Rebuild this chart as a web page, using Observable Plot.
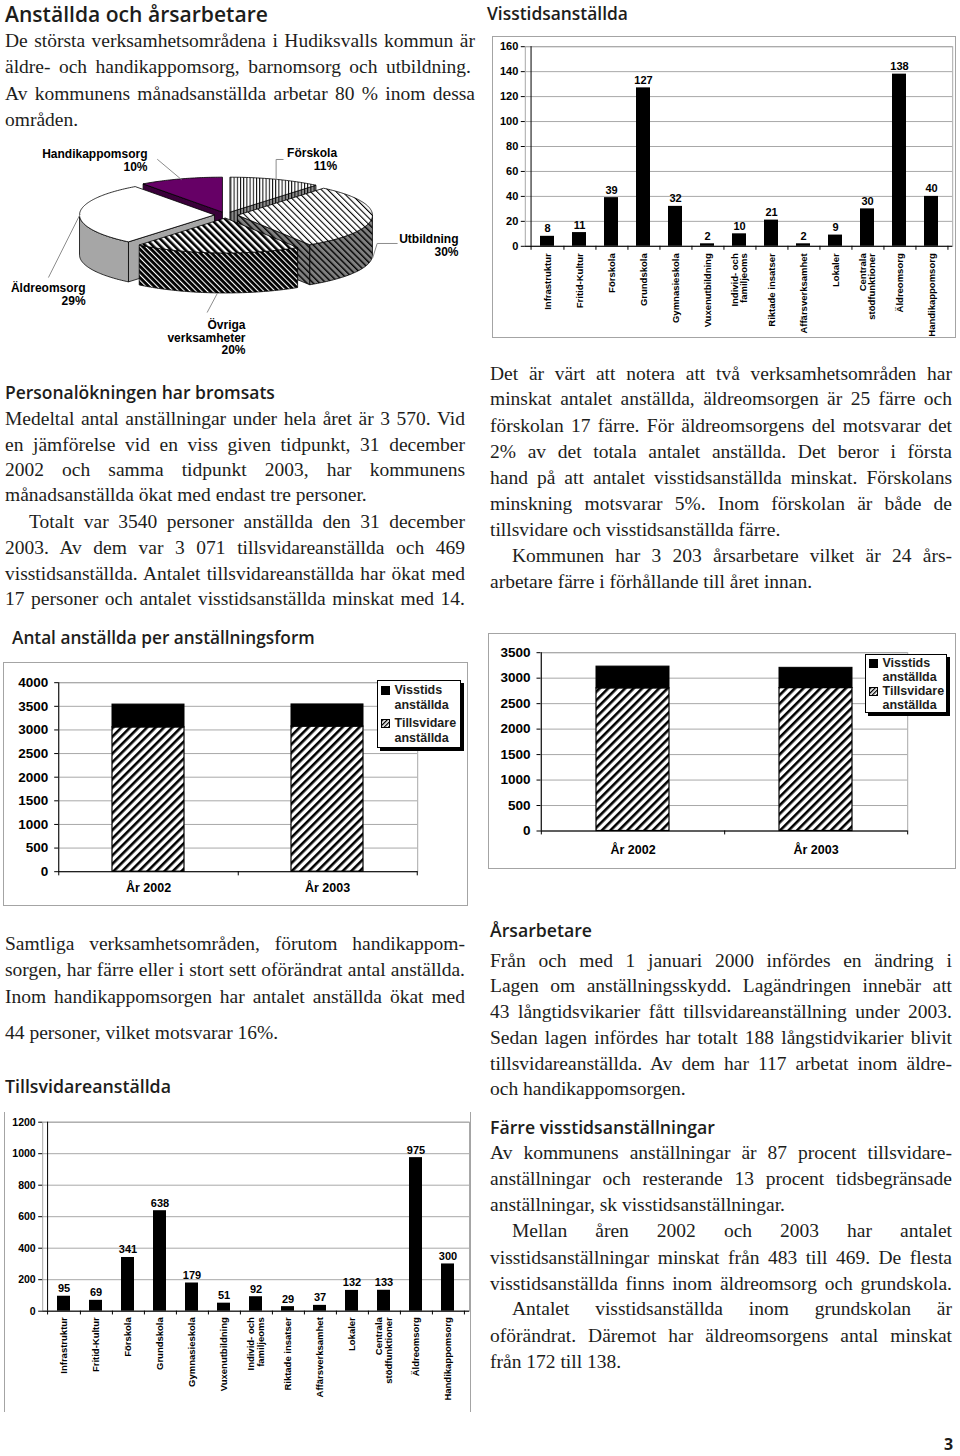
<!DOCTYPE html>
<html><head><meta charset="utf-8">
<script src="https://cdn.jsdelivr.net/npm/d3@7"></script>
<script src="https://cdn.jsdelivr.net/npm/@observablehq/plot@0.6"></script>
<style>
body{margin:0;background:#fff;}
#page{position:relative;width:960px;height:1456px;overflow:hidden;color:#1d1d1b;}
.h{position:absolute;font-family:"Open Sans",sans-serif;font-weight:600;white-space:nowrap;line-height:24px;color:#1d1d1b;}
.ln{position:absolute;font-family:"Liberation Serif",serif;font-size:19.5px;line-height:26px;text-align:justify;text-align-last:justify;color:#1d1d1b;}
.ln.last{text-align-last:left;}
.box{position:absolute;box-sizing:border-box;border:1.5px solid #a4a4a4;background:#fff;}
.chart{position:absolute;}
.leg{position:absolute;box-sizing:border-box;border:1px solid #000;background:#fff;box-shadow:3px 3px 0 #000;font-family:"Liberation Sans",Arial,sans-serif;font-weight:bold;font-size:12.5px;line-height:14.5px;}
.leg .sw{position:absolute;width:9px;height:9px;box-sizing:border-box;border:1px solid #000;}
.leg .tx{position:absolute;white-space:nowrap;}
</style></head><body>
<svg width="0" height="0" style="position:absolute;left:0;top:0">
<defs>
<pattern id="hatchBar" patternUnits="userSpaceOnUse" width="6" height="6" patternTransform="rotate(45)"><rect width="6" height="6" fill="#fff"/><rect width="2.6" height="6" fill="#000"/></pattern>
<pattern id="hatchSmall" patternUnits="userSpaceOnUse" width="3" height="3" patternTransform="rotate(45)"><rect width="3" height="3" fill="#fff"/><rect width="1.3" height="3" fill="#000"/></pattern>
<pattern id="pVert" patternUnits="userSpaceOnUse" width="3.2" height="4"><rect width="3.2" height="4" fill="#fff"/><rect width="1" height="4" fill="#000"/></pattern>
<pattern id="pVertSide" patternUnits="userSpaceOnUse" width="3.2" height="4"><rect width="3.2" height="4" fill="#8a8a8a"/><rect width="1" height="4" fill="#000"/></pattern>
<pattern id="pDiag" patternUnits="userSpaceOnUse" width="4.5" height="4.5" patternTransform="rotate(-45)"><rect width="4.5" height="4.5" fill="#fff"/><rect width="1.1" height="4.5" fill="#000"/></pattern>
<pattern id="pDiagSide" patternUnits="userSpaceOnUse" width="4.5" height="4.5" patternTransform="rotate(-45)"><rect width="4.5" height="4.5" fill="#808080"/><rect width="1.4" height="4.5" fill="#000"/></pattern>
<pattern id="pThick" patternUnits="userSpaceOnUse" width="5" height="5" patternTransform="rotate(-45)"><rect width="5" height="5" fill="#fff"/><rect width="2.6" height="5" fill="#000"/></pattern>
<pattern id="pThickSide" patternUnits="userSpaceOnUse" width="4" height="4" patternTransform="rotate(-45)"><rect width="4" height="4" fill="#000"/><rect width="1.1" height="4" fill="#fff"/></pattern>
</defs></svg>
<div id="page"></div>
<script>
// ---------------- DATA ----------------
const categories = ["Infrastruktur","Fritid-Kultur","Förskola","Grundskola","Gymnasieskola","Vuxenutbildning","Individ- och familjeoms","Riktade insatser","Affärsverksamhet","Lokaler","Centrala stödfunktioner","Äldreomsorg","Handikappomsorg"];
const categoryTickLabels = ["Infrastruktur","Fritid-Kultur","Förskola","Grundskola","Gymnasieskola","Vuxenutbildning","Individ- och\nfamiljeoms","Riktade insatser","Affärsverksamhet","Lokaler","Centrala\nstödfunktioner","Äldreomsorg","Handikappomsorg"];
const visstidsValues = [8, 11, 39, 127, 32, 2, 10, 21, 2, 9, 30, 138, 40];
const tillsvidareValues = [95, 69, 341, 638, 179, 51, 92, 29, 37, 132, 133, 975, 300];

const years = ["År 2002", "År 2003"];
const anstalldaTillsvidare = [3054, 3071];
const anstalldaVisstids = [483, 469];
const arsarbTillsvidare = [2800, 2805];
const arsarbVisstids = [427, 398];

const pieNames = ["Förskola", "Utbildning", "Övriga verksamheter", "Äldreomsorg", "Handikappomsorg"];
const pieLabels = ["Förskola", "Utbildning", "Övriga\nverksamheter", "Äldreomsorg", "Handikappomsorg"];
const pieShares = [11, 30, 20, 29, 10];

const ticksVisstid = [0, 20, 40, 60, 80, 100, 120, 140, 160];
const ticksTillsv = [0, 200, 400, 600, 800, 1000, 1200];
const ticksAnst = [0, 500, 1000, 1500, 2000, 2500, 3000, 3500, 4000];
const ticksArs = [0, 500, 1000, 1500, 2000, 2500, 3000, 3500];

// ---------------- TEXT ----------------
const page = document.getElementById("page");
const headings = [
  {t: "Anställda och årsarbetare", x: 5, yc: 15, w: 263},
  {t: "Visstidsanställda", x: 487, yc: 14, w: 141},
  {t: "Personalökningen har bromsats", x: 5, yc: 393.5, w: 270},
  {t: "Antal anställda per anställningsform", x: 12, yc: 639, w: 303},
  {t: "Tillsvidareanställda", x: 5, yc: 1087, w: 166},
  {t: "Årsarbetare", x: 490, yc: 931.5, w: 102},
  {t: "Färre visstidsanställningar", x: 490, yc: 1128.5, w: 225}
];
const L = (t, x, w, yc, o = {}) => Object.assign({t, x, w, yc}, o);
const lines = [
  L("De största verksamhetsområdena i Hudiksvalls kommun är", 5, 470, 43),
  L("äldre- och handikappomsorg, barnomsorg och utbildning.", 5, 466, 69.5),
  L("Av kommunens månadsanställda arbetar 80 % inom dessa", 5, 470, 96),
  L("områden.", 5, 470, 122, {last: true}),

  L("Medeltal antal anställningar under hela året är 3 570. Vid", 5, 460, 421.7),
  L("en jämförelse vid en viss given tidpunkt, 31 december", 5, 460, 447.3),
  L("2002 och samma tidpunkt 2003, har kommunens", 5, 460, 472.7),
  L("månadsanställda ökat med endast tre personer.", 5, 460, 497.7, {last: true}),
  L("Totalt var 3540 personer anställda den 31 december", 5, 460, 524.3, {ind: 24}),
  L("2003. Av dem var 3 071 tillsvidareanställda och 469", 5, 460, 550),
  L("visstidsanställda. Antalet tillsvidareanställda har ökat med", 5, 460, 576),
  L("17 personer och antalet visstidsanställda minskat med 14.", 5, 460, 601.7),

  L("Samtliga verksamhetsområden, förutom handikappom-", 5, 460, 946.7),
  L("sorgen, har färre eller i stort sett oförändrat antal anställda.", 5, 460, 972.7),
  L("Inom handikappomsorgen har antalet anställda ökat med", 5, 460, 999.3),
  L("44 personer, vilket motsvarar 16%.", 5, 460, 1035, {last: true}),

  L("Det är värt att notera att två verksamhetsområden har", 490, 462, 376.7),
  L("minskat antalet anställda, äldreomsorgen är 25 färre och", 490, 462, 401.7),
  L("förskolan 17 färre. För äldreomsorgens del motsvarar det", 490, 462, 428.3),
  L("2% av det totala antalet anställda. Det beror i första", 490, 462, 454.3),
  L("hand på att antalet visstidsanställda minskat. Förskolans", 490, 462, 480.7),
  L("minskning motsvarar 5%. Inom förskolan är både de", 490, 462, 506.7),
  L("tillsvidare och visstidsanställda färre.", 490, 462, 532.7, {last: true}),
  L("Kommunen har 3 203 årsarbetare vilket är 24 års-", 490, 462, 558.3, {ind: 22}),
  L("arbetare färre i förhållande till året innan.", 490, 462, 584, {last: true}),

  L("Från och med 1 januari 2000 infördes en ändring i", 490, 462, 963.3),
  L("Lagen om anställningsskydd. Lagändringen innebär att", 490, 462, 988.3),
  L("43 långtidsvikarier fått tillsvidareanställning under 2003.", 490, 462, 1014),
  L("Sedan lagen infördes har totalt 188 långstidvikarier blivit", 490, 462, 1040),
  L("tillsvidareanställda. Av dem har 117 arbetat inom äldre-", 490, 462, 1066),
  L("och handikappomsorgen.", 490, 462, 1091.7, {last: true}),

  L("Av kommunens anställningar är 87 procent tillsvidare-", 490, 462, 1155),
  L("anställningar och resterande 13 procent tidsbegränsade", 490, 462, 1181.7),
  L("anställningar, sk visstidsanställningar.", 490, 462, 1207.3, {last: true}),
  L("Mellan åren 2002 och 2003 har antalet", 490, 462, 1233.3, {ind: 22}),
  L("visstidsanställningar minskat från 483 till 469. De flesta", 490, 462, 1260),
  L("visstidsanställda finns inom äldreomsorg och grundskola.", 490, 462, 1286),
  L("Antalet visstidsanställda inom grundskolan är", 490, 462, 1311.7, {ind: 22}),
  L("oförändrat. Däremot har äldreomsorgens antal minskat", 490, 462, 1338.3),
  L("från 172 till 138.", 490, 462, 1364, {last: true})
];

for (const h of headings) {
  const d = document.createElement("div");
  d.className = "h"; d.textContent = h.t;
  d.style.fontSize = "20px"; d.style.left = h.x + "px"; d.style.top = (h.yc - 13.5) + "px";
  page.appendChild(d);
  const w = d.getBoundingClientRect().width;
  d.style.fontSize = (20 * h.w / w).toFixed(2) + "px";
}
for (const l of lines) {
  const d = document.createElement("div");
  d.className = "ln" + (l.last ? " last" : "");
  d.textContent = l.t;
  const ind = l.ind || 0;
  d.style.left = (l.x + ind) + "px";
  d.style.width = (l.w - ind) + "px";
  d.style.top = (l.yc - 15.5) + "px";
  page.appendChild(d);
  let fs = 19.5;
  while (d.getBoundingClientRect().height > 30 && fs > 12) { fs -= 0.25; d.style.fontSize = fs + "px"; }
}
const pn = document.createElement("div");
pn.textContent = "3";
Object.assign(pn.style, {position: "absolute", left: "944px", top: "1434px", fontFamily: "'Open Sans',sans-serif", fontWeight: "700", fontSize: "16px", lineHeight: "20px"});
page.appendChild(pn);

// ---------------- HELPERS ----------------
function addBox(left, top, w, h, style = {}) {
  const d = document.createElement("div");
  d.className = "box";
  Object.assign(d.style, {left: left + "px", top: top + "px", width: w + "px", height: h + "px"}, style);
  page.appendChild(d);
}
function addChart(svg, left, top) {
  const d = document.createElement("div");
  d.className = "chart";
  d.style.left = left + "px"; d.style.top = top + "px";
  d.appendChild(svg);
  page.appendChild(d);
}
const baseStyle = {fontFamily: "'Liberation Sans', Arial, sans-serif", fontWeight: "bold", color: "#000", background: "none", overflow: "visible"};

function barChart(cats, vals, o) {
  const step = (o.width - o.ml - o.mr) / cats.length;
  const data = cats.map((c, i) => ({cat: c, v: vals[i]}));
  return Plot.plot({
    width: o.width, height: o.height,
    marginLeft: o.ml, marginRight: o.mr, marginTop: o.mt, marginBottom: o.mb,
    style: baseStyle,
    x: {domain: cats, paddingInner: o.pad, paddingOuter: o.pad / 2, align: 0.5, label: null},
    y: {domain: [0, o.max], label: null},
    marks: [
      Plot.gridY({ticks: o.ticks, stroke: "#a8a8a8", strokeOpacity: 1}),
      Plot.frame({stroke: "#a8a8a8"}),
      Plot.barY(data, {x: "cat", y: "v", fill: "#000"}),
      Plot.ruleY([0], {stroke: "#000"}),
      Plot.ruleX([cats[0]], {x: d => d, dx: -step / 2, y1: 0, y2: o.max, stroke: "#000"}),
      Plot.ruleX(cats, {x: d => d, dx: step / 2, y1: 0, y2: -o.max * 0.02, stroke: "#000"}),
      Plot.ruleX([cats[0]], {x: d => d, dx: -step / 2, y1: 0, y2: -o.max * 0.02, stroke: "#000"}),
      Plot.axisY({ticks: o.ticks, tickSize: 4, tickPadding: 3, fontSize: o.yfs, label: null, tickFormat: d => String(d)}),
      Plot.axisX({tickSize: 0, tickPadding: o.xpad, tickRotate: -90, fontSize: o.xfs, label: null, tickFormat: d => o.labels[cats.indexOf(d)]}),
      Plot.text(data, {x: "cat", y: "v", text: d => String(d.v), dy: -4, lineAnchor: "bottom", fontSize: o.vfs})
    ]
  });
}

function stackChart(cats, lower, upper, o) {
  const step = (o.width - o.ml - o.mr) / cats.length;
  const data = cats.map((c, i) => ({cat: c, t: lower[i], v: upper[i]}));
  return Plot.plot({
    width: o.width, height: o.height,
    marginLeft: o.ml, marginRight: o.mr, marginTop: o.mt, marginBottom: o.mb,
    style: baseStyle,
    x: {domain: cats, paddingInner: o.pad, paddingOuter: o.pad / 2, align: 0.5, label: null},
    y: {domain: [0, o.max], label: null},
    marks: [
      Plot.gridY({ticks: o.ticks, stroke: "#a8a8a8", strokeOpacity: 1}),
      Plot.frame({stroke: "#a8a8a8"}),
      Plot.barY(data, {x: "cat", y1: 0, y2: "t", fill: "url(#hatchBar)", stroke: "#000", strokeWidth: 1.2}),
      Plot.barY(data, {x: "cat", y1: "t", y2: d => d.t + d.v, fill: "#000", stroke: "#000"}),
      Plot.ruleY([0], {stroke: "#000"}),
      Plot.ruleX([cats[0]], {x: d => d, dx: -step / 2, y1: 0, y2: o.max, stroke: "#000"}),
      Plot.ruleX(cats, {x: d => d, dx: step / 2, y1: 0, y2: -o.max * 0.022, stroke: "#000"}),
      Plot.ruleX([cats[0]], {x: d => d, dx: -step / 2, y1: 0, y2: -o.max * 0.022, stroke: "#000"}),
      Plot.axisY({ticks: o.ticks, tickSize: 4, tickPadding: 6.5, fontSize: o.yfs, label: null, tickFormat: d => String(d)}),
      Plot.axisX({tickSize: 0, tickPadding: o.xpad, fontSize: o.xfs, label: null})
    ]
  });
}

function addLegend(left, top, w, h, rows) {
  const d = document.createElement("div");
  d.className = "leg";
  Object.assign(d.style, {left: left + "px", top: top + "px", width: w + "px", height: h + "px"});
  for (const r of rows) {
    if (r.sw) {
      const s = document.createElement("div");
      s.className = "sw";
      s.style.left = "3px"; s.style.top = r.swy + "px";
      if (r.sw === "black") s.style.background = "#000";
      else s.innerHTML = '<svg width="7" height="7" style="display:block"><rect width="7" height="7" fill="url(#hatchSmall)"/></svg>';
      d.appendChild(s);
    }
    const t = document.createElement("div");
    t.className = "tx"; t.textContent = r.t;
    t.style.left = "17px"; t.style.top = r.y + "px";
    d.appendChild(t);
  }
  page.appendChild(d);
}

// ---------------- VISSTIDSANSTÄLLDA ----------------
addBox(492, 36, 464, 302);
addChart(barChart(categories, visstidsValues, {
  width: 461, height: 299, ml: 30.8, mr: 2.8, mt: 8.2, mb: 91.2, pad: 0.575, max: 160,
  ticks: ticksVisstid, yfs: 11, xfs: 9.5, xpad: 7, vfs: 11, labels: categoryTickLabels
}), 493.5, 37.5);

// ---------------- TILLSVIDAREANSTÄLLDA ----------------
addBox(4, 1112, 467, 300, {borderTop: "none", borderBottom: "none"});
addChart(barChart(categories, tillsvidareValues, {
  width: 464, height: 290, ml: 36.2, mr: 1, mt: 9.7, mb: 91.3, pad: 0.595, max: 1200,
  ticks: ticksTillsv, yfs: 10.5, xfs: 9.5, xpad: 6, vfs: 11, labels: categoryTickLabels
}), 5.5, 1112);

// ---------------- ANTAL ANSTÄLLDA PER ANSTÄLLNINGSFORM ----------------
addBox(3, 662, 465, 244);
addChart(stackChart(years, anstalldaTillsvidare, anstalldaVisstids, {
  width: 462, height: 241, ml: 53.2, mr: 49.8, mt: 18.2, mb: 33.8, pad: 0.6, max: 4000,
  ticks: ticksAnst, yfs: 13.5, xfs: 12.5, xpad: 11
}), 4.5, 663.5);
addLegend(376.5, 680, 84, 68, [
  {sw: "black", swy: 5, t: "Visstids", y: 2},
  {t: "anställda", y: 17},
  {sw: "hatch", swy: 38, t: "Tillsvidare", y: 35},
  {t: "anställda", y: 50}
]);

// ---------------- ÅRSARBETARE ----------------
addBox(488, 633, 468, 236);
addChart(stackChart(years, arsarbTillsvidare, arsarbVisstids, {
  width: 465, height: 233, ml: 50.5, mr: 47.8, mt: 17.2, mb: 37.5, pad: 0.6, max: 3500,
  ticks: ticksArs, yfs: 13.5, xfs: 12.5, xpad: 14
}), 489.5, 634.5);
addLegend(864.5, 653.5, 82, 59, [
  {sw: "black", swy: 4, t: "Visstids", y: 1},
  {t: "anställda", y: 15},
  {sw: "hatch", swy: 32, t: "Tillsvidare", y: 29},
  {t: "anställda", y: 43.5}
]);

// ---------------- PIE ----------------
const PX = 135, PY = 35, depth = 40 / 35, explode = 0.085;
const pieFill = [
  {top: "url(#pVert)", side: "url(#pVertSide)"},
  {top: "url(#pDiag)", side: "url(#pDiagSide)"},
  {top: "url(#pThick)", side: "url(#pThickSide)"},
  {top: "#ffffff", side: "#a6a6a6"},
  {top: "#660066", side: "#3a003a"}
];
// label and leader layout, pixel offsets relative to each slice's visible rim point
const pieLayout = [
  {dx: 61, dy: -20.4, leader: [[0, 0], [0, -20.3], [7, -20.3]]},
  {dx: 85.8, dy: -12.6, leader: [[0, 0], [4.5, -14.4], [24.5, -14.4]]},
  {dx: 28.2, dy: 44.3, leader: [[0, 0], [-10, 18.8]]},
  {dx: 5.5, dy: 80, leader: [[0, 0], [-31.5, 62.9]]},
  {dx: -33.7, dy: -19.2, leader: [[0, 0], [-23.7, -19.9]]}
];
const total = d3.sum(pieShares);
let acc = 0;
const slices = pieNames.map((n, i) => {
  const a = acc / total * 360; acc += pieShares[i]; const b = acc / total * 360;
  const m = (a + b) / 2 * Math.PI / 180;
  const ex = explode * Math.sin(m), ey = explode * Math.cos(m);
  const front = Math.cos(m) < 0;
  const rimX = ex + Math.sin(m), rimY = ey + Math.cos(m) - (front ? depth : 0);
  return {i, name: n, label: pieLabels[i] + "\n" + pieShares[i] + "%", a, b, m, ex, ey, rimX, rimY, ...pieFill[i], lay: pieLayout[i]};
});
const labelData = slices.map(s => ({text: s.label, x: s.rimX + s.lay.dx / PX, y: s.rimY - s.lay.dy / PY}));
const leaderData = slices.flatMap(s => s.lay.leader.map(([dx, dy]) => ({id: s.i, x: s.rimX + dx / PX, y: s.rimY - dy / PY})));

function pieMark(index, scales) {
  const g = d3.create("svg:g");
  const P = (s, t, r, dz) => {
    const a = t * Math.PI / 180;
    return [scales.x(s.ex + r * Math.sin(a)), scales.y(s.ey + r * Math.cos(a) - dz)];
  };
  const arc = (s, t0, t1, dz) => {
    const n = Math.max(2, Math.ceil(Math.abs(t1 - t0)));
    return d3.range(n + 1).map(k => P(s, t0 + (t1 - t0) * k / n, 1, dz));
  };
  const path = pts => "M" + pts.map(p => p[0].toFixed(2) + "," + p[1].toFixed(2)).join("L") + "Z";
  const order = slices.slice().sort((p, q) => Math.cos(q.m) - Math.cos(p.m));
  for (const s of order) {
    const faces = [];
    const ar = s.a * Math.PI / 180, br = s.b * Math.PI / 180;
    if (Math.sin(ar) < -1e-6) faces.push([P(s, s.a, 0, 0), P(s, s.a, 1, 0), P(s, s.a, 1, depth), P(s, s.a, 0, depth)]);
    if (Math.sin(br) > 1e-6) faces.push([P(s, s.b, 0, 0), P(s, s.b, 1, 0), P(s, s.b, 1, depth), P(s, s.b, 0, depth)]);
    const t1 = Math.max(s.a, 90), t2 = Math.min(s.b, 270);
    if (t2 > t1) faces.push([...arc(s, t1, t2, 0), ...arc(s, t2, t1, depth)]);
    for (const f of faces) g.append("path").attr("d", path(f)).attr("fill", s.side).attr("stroke", "#000").attr("stroke-width", 0.8).attr("stroke-linejoin", "round");
    g.append("path").attr("d", path([P(s, s.a, 0, 0), ...arc(s, s.a, s.b, 0)])).attr("fill", s.top).attr("stroke", "#000").attr("stroke-width", 0.8).attr("stroke-linejoin", "round");
  }
  return g.node();
}

const pieCX = 226, pieCY = 215 - 130;
addChart(Plot.plot({
  width: 480, height: 230, margin: 0,
  style: baseStyle,
  x: {domain: [-1, 1], range: [pieCX - PX, pieCX + PX], axis: null},
  y: {domain: [-1, 1], range: [pieCY + PY, pieCY - PY], axis: null},
  marks: [
    pieMark,
    Plot.line(leaderData, {x: "x", y: "y", z: "id", stroke: "#8c8c8c", strokeWidth: 1}),
    Plot.text(labelData, {x: "x", y: "y", text: "text", textAnchor: "end", lineAnchor: "middle", lineHeight: 1.05, fontSize: 12, fill: "#000"})
  ]
}), 0, 130);
</script>
</body></html>
